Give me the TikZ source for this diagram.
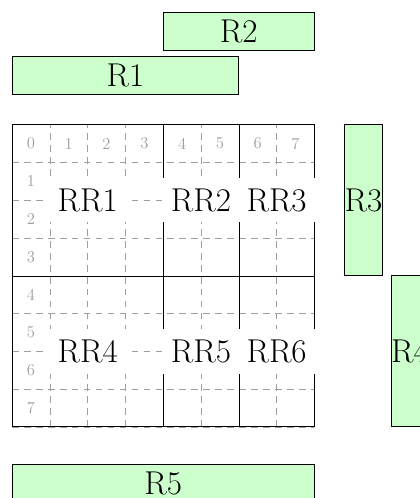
\documentclass[tikz,border=0pt]{standalone}
\usepackage{tikz}
\usetikzlibrary{calc}
\definecolor{box-fill}{HTML}{CCFFCC}
\definecolor{cell-gray}{gray}{0.62}

\begin{document}
\begin{tikzpicture}[
    rectbox/.style={draw=black, thick, fill=box-fill},
    rlabel/.style={inner sep=0pt, font=\Huge},
    region/.style={fill=white, inner xsep=7pt, inner ysep=8pt, font=\Huge},
    idx/.style={text=cell-gray, inner sep=1pt, font=\fontsize{12.5}{14}\selectfont}
]
    \useasboundingbox (-0.32,-1.88) rectangle (10.77,11.30);

    % Cell grid
    \draw[cell-gray, dash pattern=on 5pt off 4pt] (0,0) grid (8,8);

    % Region borders
    \draw (4,0) -- (4,8);
    \draw (6,0) -- (6,8);
    \draw (0,4) -- (8,4);
    \draw[thick] (0,0) rectangle (8,8);

    % Cell indices
    \foreach \i in {0,...,7}
        \node[idx] (col\i) at (\i+0.5,7.5) {\i};
    \foreach \j in {1,...,7}
        \node[idx] (row\j) at (0.5,7.5-\j) {\j};

    % Regions
    \node[region] (rr1) at (2,6) {RR1};
    \node[region] (rr2) at (5,6) {RR2};
    \node[region] (rr3) at (7,6) {RR3};
    \node[region] (rr4) at (2,2) {RR4};
    \node[region] (rr5) at (5,2) {RR5};
    \node[region] (rr6) at (7,2) {RR6};

    % Rectangles
    \draw[rectbox] (4,9.97) rectangle (8,10.97);
    \draw[rectbox] (0,8.8) rectangle (6,9.8);
    \draw[rectbox] (8.8,4) rectangle (9.8,8);
    \draw[rectbox] (10.03,0) rectangle (11.03,4);
    \draw[rectbox] (0,-1) rectangle (8,-2);

    % Rectangle labels
    \node[rlabel] (r2) at (6,10.47) {R2};
    \node[rlabel] (r1) at (3,9.3) {R1};
    \node[rlabel] (r3) at (9.3,6) {R3};
    \node[rlabel] (r4) at (10.53,2) {R4};
    \node[rlabel] (r5) at (4,-1.5) {R5};

\end{tikzpicture}
\end{document}
